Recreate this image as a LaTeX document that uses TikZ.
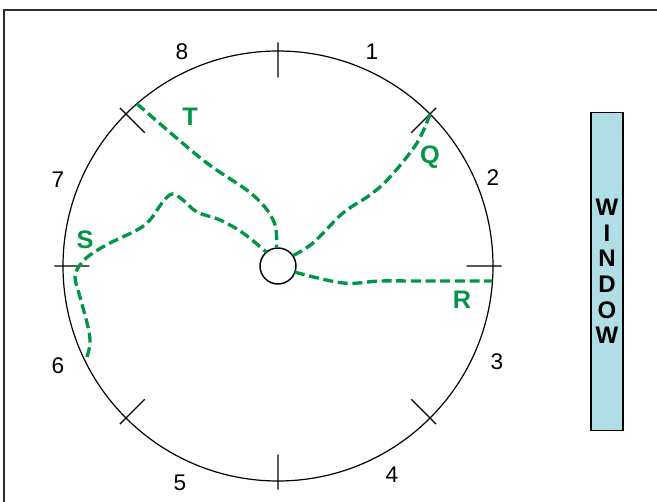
\documentclass[tikz,border=0pt]{standalone}
\usepackage{fontspec}
\setmainfont{Liberation Sans}
\usetikzlibrary{positioning,calc}
\definecolor{pathgreen}{RGB}{0,150,70}
\definecolor{glass}{RGB}{176,222,228}
\definecolor{framegray}{RGB}{45,45,45}
\tikzset{
  dial/.style={circle,draw=black,line width=0.9pt,inner sep=0pt,outer sep=0pt,minimum size=322.5pt},
  hub/.style={circle,draw=black,line width=1.1pt,fill=white,inner sep=0pt,outer sep=0pt,minimum size=27pt},
  tickmark/.style={line width=0.9pt},
  route/.style={draw=pathgreen,line width=2.5pt,dash pattern=on 7.5pt off 3.5pt},
  hour/.style={font=\fontsize{17}{19}\selectfont},
  tag/.style={text=pathgreen,font=\fontsize{19}{21}\selectfont\bfseries},
  pane/.style={rectangle,draw=black,line width=1pt,fill=glass,minimum width=24pt,minimum height=238pt,align=center,inner sep=0pt,font=\fontsize{18}{19.2}\selectfont\bfseries}
}

\begin{document}
\begin{tikzpicture}[x=0.75pt,y=-0.75pt]
  \useasboundingbox (0,0) rectangle (657,502);
  \draw[framegray,line width=2pt] (4,502) -- (4,10) -- (657,10);

  \node[dial] (dial) at (278,266) {};
  \foreach \a in {0,45,...,315}
    \draw[tickmark] ($(dial.center)!1.04!(dial.\a)$) -- ($(dial.center)!0.877!(dial.\a)$);

  % hour labels
  \node[hour] (h1) at (372,52) {1};
  \node[hour] (h2) at (493,178) {2};
  \node[hour] (h3) at (497,362) {3};
  \node[hour] (h4) at (392,475) {4};
  \node[hour] (h5) at (180,483) {5};
  \node[hour] (h6) at (58,366) {6};
  \node[hour] (h7) at (58,180) {7};
  \node[hour] (h8) at (182,52) {8};

  \node[hub] (hub) at (278,266) {};
  \coordinate (s0) at (87,357);

  % routes
  \draw[route] plot[smooth,tension=0.6] coordinates {(dial.131) (203,160) (253,195) (274,222) (hub.95)};
  \draw[route] plot[smooth,tension=0.6] coordinates {(dial.45) (417,143) (390,177) (370,195) (343,213) (313,243) (hub.35)};
  \draw[route] plot[smooth,tension=0.6] coordinates {(hub.-20) (343,283) (380,281) (420,281) (dial.-4)};
  \draw[route] plot[smooth,tension=0.6] coordinates {(s0) (90,343) (88,327) (80,297) (75,277) (80,265) (90,255)
    (110,243) (137,230) (150,220) (162,203) (172,194) (183,200) (197,212) (220,220) (243,233) (hub.130)};

  \node[tag] (t) at (190,117) {T};
  \node[tag] (q) at (430,157) {Q};
  \node[tag] (r) at (462,300) {R};
  \node[tag] (s) at (85,240) {S};

  \node[pane] (window) at (607,271.5) {W\\I\\N\\D\\O\\W};
\end{tikzpicture}
\end{document}
